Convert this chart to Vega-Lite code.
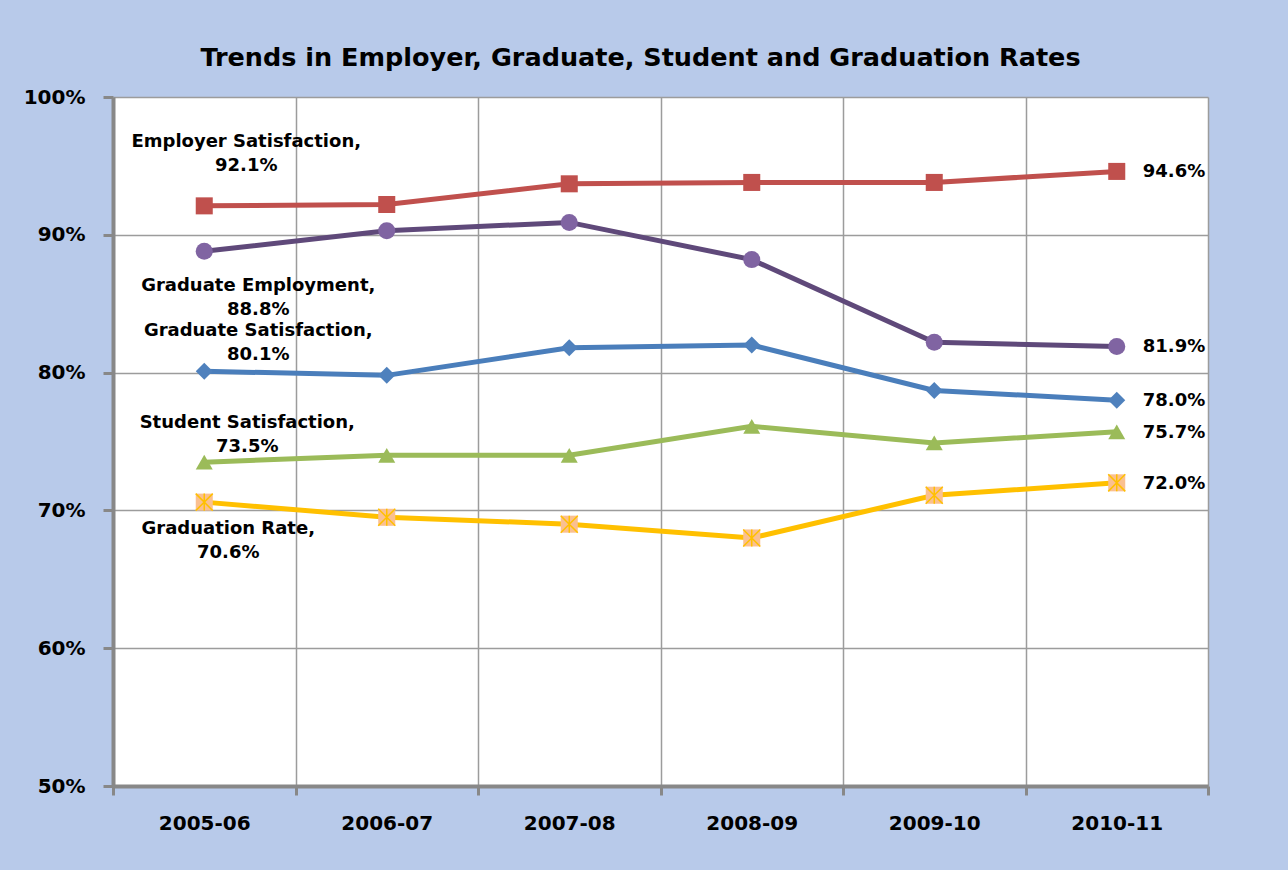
{
  "$schema": "https://vega.github.io/schema/vega-lite/v6.json",
  "width": 1095,
  "height": 689,
  "autosize": {"type": "none"},
  "padding": {"left": 113, "top": 97, "right": 80, "bottom": 84},
  "background": "#B8CAEA",
  "config": {
    "view": {"fill": "white", "stroke": null},
    "font": "DejaVu Sans"
  },
  "title": {
    "text": "Trends in Employer, Graduate, Student and Graduation Rates",
    "font": "DejaVu Sans",
    "fontSize": 25.5,
    "fontWeight": "bold",
    "color": "black",
    "anchor": "middle",
    "dx": -20,
    "offset": 16
  },
  "data": {
    "values": [
      {"series": "Employer Satisfaction", "year": "2005-06", "value": 0.921},
      {"series": "Employer Satisfaction", "year": "2006-07", "value": 0.922},
      {"series": "Employer Satisfaction", "year": "2007-08", "value": 0.937},
      {"series": "Employer Satisfaction", "year": "2008-09", "value": 0.938},
      {"series": "Employer Satisfaction", "year": "2009-10", "value": 0.938},
      {"series": "Employer Satisfaction", "year": "2010-11", "value": 0.946},
      {"series": "Graduate Employment", "year": "2005-06", "value": 0.888},
      {"series": "Graduate Employment", "year": "2006-07", "value": 0.903},
      {"series": "Graduate Employment", "year": "2007-08", "value": 0.909},
      {"series": "Graduate Employment", "year": "2008-09", "value": 0.882},
      {"series": "Graduate Employment", "year": "2009-10", "value": 0.822},
      {"series": "Graduate Employment", "year": "2010-11", "value": 0.819},
      {"series": "Graduate Satisfaction", "year": "2005-06", "value": 0.801},
      {"series": "Graduate Satisfaction", "year": "2006-07", "value": 0.798},
      {"series": "Graduate Satisfaction", "year": "2007-08", "value": 0.818},
      {"series": "Graduate Satisfaction", "year": "2008-09", "value": 0.820},
      {"series": "Graduate Satisfaction", "year": "2009-10", "value": 0.787},
      {"series": "Graduate Satisfaction", "year": "2010-11", "value": 0.780},
      {"series": "Student Satisfaction", "year": "2005-06", "value": 0.735},
      {"series": "Student Satisfaction", "year": "2006-07", "value": 0.740},
      {"series": "Student Satisfaction", "year": "2007-08", "value": 0.740},
      {"series": "Student Satisfaction", "year": "2008-09", "value": 0.761},
      {"series": "Student Satisfaction", "year": "2009-10", "value": 0.749},
      {"series": "Student Satisfaction", "year": "2010-11", "value": 0.757},
      {"series": "Graduation Rate", "year": "2005-06", "value": 0.706},
      {"series": "Graduation Rate", "year": "2006-07", "value": 0.695},
      {"series": "Graduation Rate", "year": "2007-08", "value": 0.690},
      {"series": "Graduation Rate", "year": "2008-09", "value": 0.680},
      {"series": "Graduation Rate", "year": "2009-10", "value": 0.711},
      {"series": "Graduation Rate", "year": "2010-11", "value": 0.720}
    ]
  },
  "encoding": {
    "x": {
      "field": "year",
      "type": "ordinal",
      "scale": {"type": "band", "paddingInner": 0, "paddingOuter": 0},
      "axis": {
        "title": null,
        "labelAngle": 0,
        "tickBand": "extent",
        "grid": true,
        "gridColor": "#9C9C9C",
        "gridWidth": 1.5,
        "domainColor": "#888888",
        "domainWidth": 4,
        "tickColor": "#888888",
        "tickWidth": 3,
        "tickSize": 9,
        "labelPadding": 18,
        "labelFont": "DejaVu Sans",
        "labelFontWeight": "bold",
        "labelFontSize": 20,
        "labelColor": "black"
      }
    },
    "y": {
      "field": "value",
      "type": "quantitative",
      "scale": {"domain": [0.5, 1], "nice": false, "zero": false},
      "axis": {
        "title": null,
        "values": [0.5, 0.6, 0.7, 0.8, 0.9, 1.0],
        "format": ".0%",
        "grid": true,
        "gridColor": "#9C9C9C",
        "gridWidth": 1.5,
        "domainColor": "#888888",
        "domainWidth": 4,
        "tickColor": "#888888",
        "tickWidth": 3,
        "tickSize": 10,
        "labelPadding": 18,
        "labelFont": "DejaVu Sans",
        "labelFontWeight": "bold",
        "labelFontSize": 20,
        "labelColor": "black"
      }
    }
  },
  "layer": [
    {
      "mark": {"type": "line", "strokeWidth": 5},
      "encoding": {
        "color": {
          "field": "series",
          "type": "nominal",
          "legend": null,
          "scale": {
            "domain": ["Employer Satisfaction", "Graduate Employment", "Graduate Satisfaction", "Student Satisfaction", "Graduation Rate"],
            "range": ["#C0504D", "#5F497A", "#4A7EBB", "#9BBB59", "#FFC000"]
          }
        }
      }
    },
    {
      "mark": {"type": "point", "filled": true, "opacity": 1, "strokeWidth": 0},
      "encoding": {
        "fill": {
          "field": "series",
          "type": "nominal",
          "legend": null,
          "scale": {
            "domain": ["Employer Satisfaction", "Graduate Employment", "Graduate Satisfaction", "Student Satisfaction", "Graduation Rate"],
            "range": ["#C0504D", "#8064A2", "#4F81BD", "#9BBB59", "#FAC090"]
          }
        },
        "shape": {
          "field": "series",
          "type": "nominal",
          "legend": null,
          "scale": {
            "domain": ["Employer Satisfaction", "Graduate Employment", "Graduate Satisfaction", "Student Satisfaction", "Graduation Rate"],
            "range": ["square", "circle", "diamond", "triangle-up", "square"]
          }
        },
        "size": {
          "field": "series",
          "type": "nominal",
          "legend": null,
          "scale": {
            "domain": ["Employer Satisfaction", "Graduate Employment", "Graduate Satisfaction", "Student Satisfaction", "Graduation Rate"],
            "range": [290, 290, 210, 230, 290]
          }
        }
      }
    },
    {
      "transform": [{"filter": "datum.series === 'Graduation Rate'"}],
      "mark": {
        "type": "point",
        "shape": "M-1,-1L1,1M1,-1L-1,1M0,-1L0,1",
        "size": 290,
        "filled": false,
        "opacity": 1,
        "stroke": "#FFC000",
        "strokeWidth": 1.5
      }
    },
    {
      "transform": [
        {"filter": "datum.year === '2010-11'"},
        {"calculate": "format(datum.value, '.1%')", "as": "label"}
      ],
      "mark": {"type": "text", "font": "DejaVu Sans", "fontSize": 18, "fontWeight": "bold", "color": "black", "align": "left", "baseline": "middle", "dx": 26, "dy": 1},
      "encoding": {"text": {"field": "label", "type": "nominal"}}
    },
    {
      "transform": [
        {"filter": "datum.year === '2005-06' && datum.series === 'Employer Satisfaction'"},
        {"calculate": "datum.series + ',|' + format(datum.value, '.1%')", "as": "label"}
      ],
      "mark": {"type": "text", "font": "DejaVu Sans", "fontSize": 18, "fontWeight": "bold", "color": "black", "align": "center", "baseline": "bottom", "lineBreak": "|", "lineHeight": 24, "dx": 42, "dy": -55},
      "encoding": {"text": {"field": "label", "type": "nominal"}}
    },
    {
      "transform": [
        {"filter": "datum.year === '2005-06' && datum.series === 'Graduate Employment'"},
        {"calculate": "datum.series + ',|' + format(datum.value, '.1%')", "as": "label"}
      ],
      "mark": {"type": "text", "font": "DejaVu Sans", "fontSize": 18, "fontWeight": "bold", "color": "black", "align": "center", "baseline": "top", "lineBreak": "|", "lineHeight": 24, "dx": 54, "dy": 26},
      "encoding": {"text": {"field": "label", "type": "nominal"}}
    },
    {
      "transform": [
        {"filter": "datum.year === '2005-06' && datum.series === 'Graduate Satisfaction'"},
        {"calculate": "datum.series + ',|' + format(datum.value, '.1%')", "as": "label"}
      ],
      "mark": {"type": "text", "font": "DejaVu Sans", "fontSize": 18, "fontWeight": "bold", "color": "black", "align": "center", "baseline": "bottom", "lineBreak": "|", "lineHeight": 24, "dx": 54, "dy": -31},
      "encoding": {"text": {"field": "label", "type": "nominal"}}
    },
    {
      "transform": [
        {"filter": "datum.year === '2005-06' && datum.series === 'Student Satisfaction'"},
        {"calculate": "datum.series + ',|' + format(datum.value, '.1%')", "as": "label"}
      ],
      "mark": {"type": "text", "font": "DejaVu Sans", "fontSize": 18, "fontWeight": "bold", "color": "black", "align": "center", "baseline": "bottom", "lineBreak": "|", "lineHeight": 24, "dx": 43, "dy": -30},
      "encoding": {"text": {"field": "label", "type": "nominal"}}
    },
    {
      "transform": [
        {"filter": "datum.year === '2005-06' && datum.series === 'Graduation Rate'"},
        {"calculate": "datum.series + ',|' + format(datum.value, '.1%')", "as": "label"}
      ],
      "mark": {"type": "text", "font": "DejaVu Sans", "fontSize": 18, "fontWeight": "bold", "color": "black", "align": "center", "baseline": "top", "lineBreak": "|", "lineHeight": 24, "dx": 24, "dy": 18},
      "encoding": {"text": {"field": "label", "type": "nominal"}}
    }
  ]
}
